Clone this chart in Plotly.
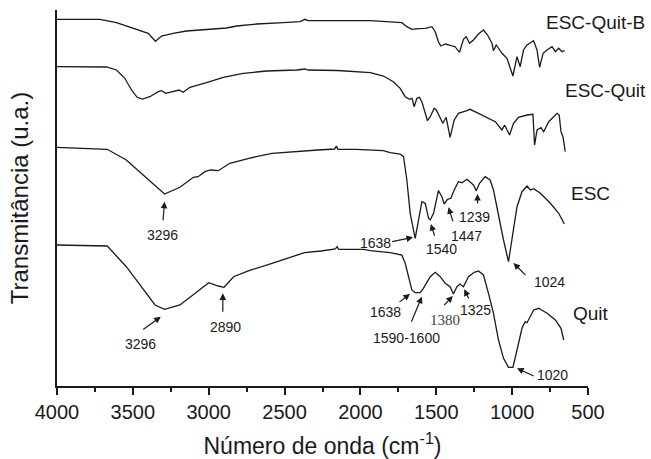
import plotly.graph_objects as go

# ---------------- data (wavenumber cm-1, transmittance in u.a.) ----------------
wn_escquitb = [4000, 3717, 3608, 3520, 3454, 3399, 3351, 3311, 3234, 3146, 3058, 2882, 2816, 2684,
               2509, 2398, 2365, 2345, 1935, 1727, 1694, 1661, 1618, 1573, 1529, 1507, 1486, 1470,
               1441, 1409, 1376, 1347, 1321, 1303, 1281, 1255, 1222, 1189, 1162, 1133, 1123, 1105,
               1067, 1034, 995, 968, 947, 925, 902, 859, 836, 819, 796, 770, 737, 715, 693, 671, 654]
t_escquitb = [366.7, 366.7, 363.3, 358.7, 356, 352.7, 344.7, 350, 352.7, 355, 356, 358, 360, 362,
              363.3, 364.3, 366.7, 365.3, 365.3, 363.3, 359.3, 356.7, 357.3, 357.7, 359.3, 354.3, 344.3, 340,
              342, 341, 339.3, 333.7, 346.7, 349.3, 342.7, 346, 352, 356, 351, 342.7, 335.3, 341,
              332.7, 327.7, 310, 329.3, 319.3, 336, 341, 345.3, 336, 318.7, 332.7, 336, 339.3, 334.3, 337.7, 334.3, 335.3]

wn_escquit = [4000, 3674, 3608, 3553, 3509, 3472, 3436, 3388, 3333, 3311, 3283, 3223, 3195, 3169, 3124,
              3014, 2904, 2773, 2618, 2420, 2365, 2345, 2150, 1935, 1849, 1783, 1738, 1705, 1677, 1660,
              1646, 1628, 1611, 1595, 1580, 1558, 1540, 1514, 1500, 1474, 1457, 1435, 1409, 1382, 1354,
              1298, 1277, 1232, 1166, 1111, 1067, 1050, 1017, 991, 958, 902, 863, 852, 836, 810, 792,
              759, 704, 690, 678, 665, 650]
t_escquit = [319.3, 319, 316, 307.7, 296, 288.7, 287, 289.3, 294.3, 295.3, 292.7, 295.3, 296, 293.7, 298.7,
             303.3, 308.7, 312.7, 315, 316, 317, 316, 315.5, 313.3, 310, 304.3, 297.7, 289.3, 286.7, 287.7,
             279.3, 287.7, 288.7, 284.3, 276, 265.3, 269.3, 277.7, 276, 267.7, 262.7, 268.7, 248.7, 266, 272.7,
             275.3, 276.7, 273.3, 268.7, 264.3, 256, 261, 251, 262.7, 268.7, 271, 271.7, 241, 256, 258.3, 254.3,
             264.3, 272.7, 271, 254.3, 249.3, 234.3]

wn_esc = [4000, 3669, 3543, 3417, 3291, 3190, 3101, 3070, 3025, 2988, 2937, 2861, 2735, 2583, 2381,
          2280, 2170, 2159, 2148, 2027, 1849, 1804, 1738, 1716, 1694, 1672, 1639, 1617, 1595, 1573,
          1551, 1540, 1518, 1486, 1463, 1448, 1426, 1404, 1382, 1354, 1331, 1298, 1277, 1255, 1237,
          1215, 1178, 1145, 1123, 1090, 1057, 1024, 991, 968, 935, 902, 880, 858, 814, 748, 693, 656]
t_esc = [238.7, 236.7, 226, 209.3, 192, 198.7, 208.7, 209.3, 214.3, 216, 215.3, 222.7, 227.7, 232.7, 235.3,
         236, 237, 240, 236.7, 236.7, 235.3, 233.3, 232, 229.3, 206, 172.7, 147.7, 166, 184.3, 182.7,
         167.7, 166, 172.7, 195.3, 189.3, 182, 186.7, 187.7, 196, 204.3, 203.3, 206.7, 204.3, 201, 195.3,
         202.7, 209.3, 206, 196, 169.3, 146, 124.3, 156, 179.3, 194.3, 200, 196, 197.3, 192.7, 182.7, 172.7, 162]

wn_quit = [4000, 3669, 3543, 3442, 3354, 3291, 3190, 3089, 3000, 2937, 2899, 2836, 2735, 2583, 2369,
           2260, 2165, 2154, 2143, 1977, 1935, 1804, 1727, 1705, 1683, 1661, 1639, 1606, 1585, 1540,
           1507, 1474, 1441, 1409, 1387, 1364, 1343, 1321, 1288, 1250, 1222, 1189, 1156, 1123, 1090,
           1057, 1024, 995, 968, 935, 914, 902, 858, 825, 770, 715, 678, 660]
t_quit = [141, 140, 119.3, 99.3, 81, 76.7, 81, 92.7, 103.3, 100, 98.7, 109.3, 115.3, 122.7, 133.3,
          135, 137, 139.3, 136.7, 136.7, 135.3, 133.3, 131, 122.7, 109.3, 96, 93.3, 93.3, 97.7, 109.3,
          113.7, 109.3, 102.7, 99.3, 92, 99.3, 102, 99.3, 109.3, 113.7, 115, 111, 92.7, 72.7, 46,
          27.7, 18.7, 18.7, 36, 57.7, 64.3, 63.3, 76, 77.7, 72.7, 66, 57.7, 46]

series_names = ["ESC-Quit-B", "ESC-Quit", "ESC", "Quit"]
x_ticks = [4000, 3500, 3000, 2500, 2000, 1500, 1000, 500]

# peak labels: (text, text_x, text_y, head_x, head_y, tail_x, tail_y)
esc_peaks = [
    ("3296", 3302, 151, 3291, 184.3, 3302, 164.3),
    ("1638", 1901, 143.3, 1653, 148.7, 1801, 144),
    ("1540", 1463, 137, 1536, 162, 1508, 148.7),
    ("1447", 1298, 150, 1420, 178.7, 1387, 163.3),
    ("1239", 1250, 169.3, 1228, 192, 1228, 181),
    ("1024", 755, 104.3, 991, 123, 902, 109.3),
]
quit_peaks = [
    ("3296", 3448, 42, 3316, 69.3, 3442, 55.3),
    ("2890", 2887, 59.3, 2907, 92.7, 2907, 72.7),
    ("1638", 1838, 74.3, 1673, 92, 1752, 83),
    ("1590-1600", 1694, 47.7, 1595, 89.3, 1668, 62.7),
    ("1380", 1442, 66, 1391, 90, 1457, 79.3),
    ("1325", 1243, 76, 1316, 96.7, 1281, 86),
    ("1020", 731, 11, 968, 17.7, 848, 9.3),
]

FONT = "Liberation Sans, Arial, sans-serif"
INK = "#1a1a1a"

fig = go.Figure()
for name, xs, ys in zip(series_names,
                        [wn_escquitb, wn_escquit, wn_esc, wn_quit],
                        [t_escquitb, t_escquit, t_esc, t_quit]):
    fig.add_trace(go.Scatter(x=xs, y=ys, mode="lines", name=name,
                             line=dict(color=INK, width=1.3), showlegend=False,
                             hoverinfo="skip"))

ann = []
# series labels
for name, lx, ly in zip(series_names, [788, 663, 626, 610], [364, 296, 193, 73]):
    ann.append(dict(x=lx, y=ly, xref="x", yref="y", text=name, showarrow=False,
                    xanchor="left", yanchor="middle",
                    font=dict(family=FONT, size=19, color=INK)))

for peaks in (esc_peaks, quit_peaks):
    for (txt, tx, ty, hx, hy, ax_, ay_) in peaks:
        serif = txt == "1380"
        ann.append(dict(x=tx, y=ty, xref="x", yref="y", text=txt, showarrow=False,
                        xanchor="center", yanchor="middle",
                        font=dict(family="Liberation Serif, Times New Roman, serif" if serif else FONT,
                                  size=15 if serif else 14, color="#444" if serif else INK)))
        ann.append(dict(x=hx, y=hy, xref="x", yref="y", ax=ax_, ay=ay_, axref="x", ayref="y",
                        text="", showarrow=True, arrowhead=2, arrowsize=1.1, arrowwidth=1.2,
                        arrowcolor=INK, standoff=0, startstandoff=0))

fig.update_layout(
    width=651, height=459,
    margin=dict(l=57, r=63, t=10, b=73),
    paper_bgcolor="white", plot_bgcolor="white",
    font=dict(family=FONT, color=INK),
    annotations=ann,
    xaxis=dict(range=[4000, 500], tickvals=x_ticks, ticktext=[str(v) for v in x_ticks],
               ticks="outside", ticklen=7, tickwidth=1.5, tickcolor=INK,
               minor=dict(dtick=250, tick0=500, ticks="outside", ticklen=4, tickwidth=1.5, tickcolor=INK),
               showline=True, linewidth=2, linecolor=INK, showgrid=False, zeroline=False,
               automargin=False,
               tickfont=dict(family=FONT, size=20, color=INK),
               title=dict(text="Número de onda (cm<sup>-1</sup>)", standoff=19,
                          font=dict(family=FONT, size=23, color=INK))),
    yaxis=dict(range=[0, 376], showline=True, linewidth=2, linecolor=INK, showgrid=False,
               zeroline=False, ticks="", showticklabels=False, automargin=False,
               title=dict(text="Transmitância (u.a.)", standoff=20,
                          font=dict(family=FONT, size=24, color=INK))),
)

fig.write_html("out.html")
